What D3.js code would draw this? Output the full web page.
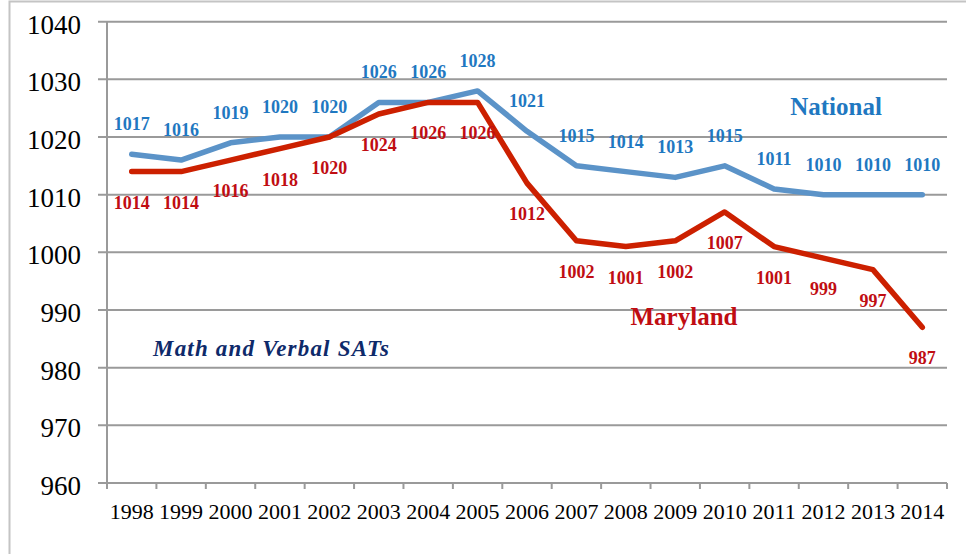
<!DOCTYPE html>
<html>
<head>
<meta charset="utf-8">
<script src="https://cdn.jsdelivr.net/npm/d3@7"></script>
<style>
	body { margin: 0; background: #fff; }
	text { font-family: "Liberation Serif", "DejaVu Serif", serif; }
</style>
</head>
<body>
<script>
const years = ["1998","1999","2000","2001","2002","2003","2004","2005","2006","2007","2008","2009","2010","2011","2012","2013","2014"];
const national = [1017,1016,1019,1020,1020,1026,1026,1028,1021,1015,1014,1013,1015,1011,1010,1010,1010];
const maryland = [1014,1014,1016,1018,1020,1024,1026,1026,1012,1002,1001,1002,1007,1001,999,997,987];
const yTicks = [960,970,980,990,1000,1010,1020,1030,1040];

const width = 966, height = 554;

const svg = d3.select("body").append("svg").attr("width",width).attr("height",height);

// outer frame
svg.append("rect")
	.attr("x",9.5).attr("y",1.5)
	.attr("width",1000).attr("height",1000)
	.attr("fill","none").attr("stroke","#c4c4c4").attr("stroke-width",2);

const x = d3.scaleBand().domain(years).range([107,947]);
const y = d3.scaleLinear().domain([960,1040]).range([483,21.7]);
const cx = d => x(d) + x.bandwidth()/2;

// gridlines
svg.selectAll("line.grid")
	.data(yTicks)
	.enter().append("line")
	.attr("class","grid")
	.attr("x1",98).attr("x2",947)
	.attr("y1",d => y(d)).attr("y2",d => y(d))
	.attr("stroke","#9a9a9a").attr("stroke-width",2);

// y axis
const yAxis = svg.append("g")
	.attr("transform","translate(107,0)")
	.call(d3.axisLeft(y).tickValues(yTicks).tickSize(0).tickPadding(26).tickFormat(d3.format("d")));
yAxis.select(".domain").remove();
yAxis.selectAll("text")
	.attr("font-family","Liberation Serif")
	.attr("font-size",27)
	.attr("fill","#000")
	.attr("dy","0.42em");

svg.append("line")
	.attr("x1",107).attr("x2",107)
	.attr("y1",y(1040)).attr("y2",489)
	.attr("stroke","#9a9a9a").attr("stroke-width",2);

// x axis ticks at band edges
svg.selectAll("line.xtick")
	.data(years.concat(["end"]))
	.enter().append("line")
	.attr("class","xtick")
	.attr("x1",d => d === "end" ? x.range()[1] : x(d))
	.attr("x2",d => d === "end" ? x.range()[1] : x(d))
	.attr("y1",y(960)).attr("y2",489)
	.attr("stroke","#9a9a9a").attr("stroke-width",2);

svg.selectAll("text.year")
	.data(years)
	.enter().append("text")
	.attr("class","year")
	.attr("x",d => cx(d))
	.attr("y",519)
	.attr("text-anchor","middle")
	.attr("font-size",22)
	.attr("fill","#000")
	.text(d => d);

const line = d3.line().x((d,i) => cx(years[i])).y(d => y(d));

svg.append("path")
	.datum(national)
	.attr("d",line)
	.attr("fill","none")
	.attr("stroke","#5b93c8")
	.attr("stroke-width",5.5)
	.attr("stroke-linejoin","round")
	.attr("stroke-linecap","round");

svg.append("path")
	.datum(maryland)
	.attr("d",line)
	.attr("fill","none")
	.attr("stroke","#cc2000")
	.attr("stroke-width",5.5)
	.attr("stroke-linejoin","round")
	.attr("stroke-linecap","round");

// data labels
svg.selectAll("text.nat")
	.data(national)
	.enter().append("text")
	.attr("class","nat")
	.attr("x",(d,i) => cx(years[i]))
	.attr("y",d => y(d) - 24)
	.attr("text-anchor","middle")
	.attr("font-size",18)
	.attr("font-weight","bold")
	.attr("fill","#1f78c1")
	.text(d => d);

svg.selectAll("text.md")
	.data(maryland)
	.enter().append("text")
	.attr("class","md")
	.attr("x",(d,i) => cx(years[i]))
	.attr("y",d => y(d) + 37)
	.attr("text-anchor","middle")
	.attr("font-size",18)
	.attr("font-weight","bold")
	.attr("fill","#c00d12")
	.text(d => d);

// series names and caption
svg.append("text")
	.attr("x",836).attr("y",115)
	.attr("text-anchor","middle")
	.attr("font-size",25).attr("font-weight","bold")
	.attr("fill","#1f78c1")
	.text("National");

svg.append("text")
	.attr("x",684).attr("y",325)
	.attr("text-anchor","middle")
	.attr("font-size",25).attr("font-weight","bold")
	.attr("fill","#c00d12")
	.text("Maryland");

svg.append("text")
	.attr("x",153).attr("y",356)
	.attr("font-size",23).attr("font-weight","bold").attr("font-style","italic")
	.attr("textLength",236).attr("lengthAdjust","spacing")
	.attr("fill","#0e2a6a")
	.text("Math and Verbal SATs");
</script>
</body>
</html>
